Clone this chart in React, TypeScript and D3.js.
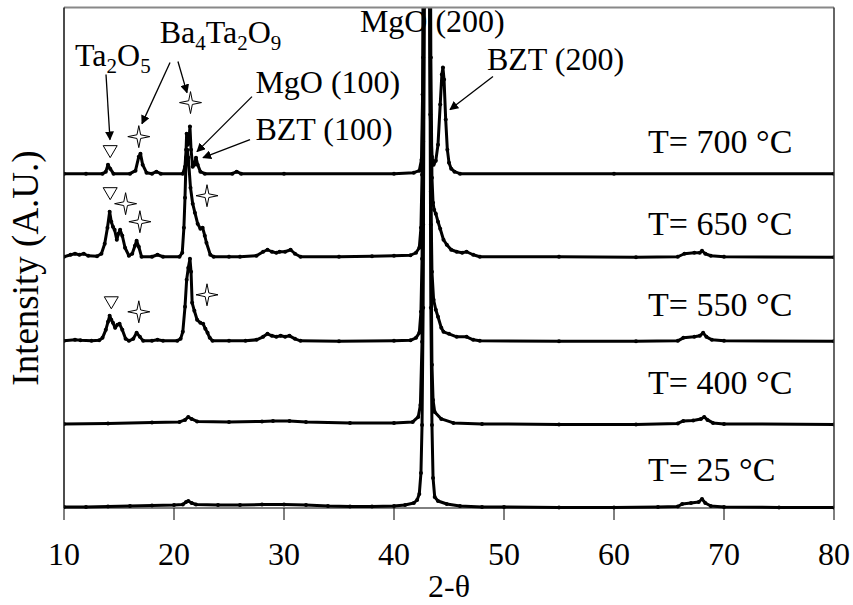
import React from "react";
import * as d3 from "d3";

// ---------- data (2θ, intensity in arbitrary units) ----------
const xTicks = [10, 20, 30, 40, 50, 60, 70, 80];
const tempLabels = ["T= 25 °C", "T= 400 °C", "T= 550 °C", "T= 650 °C", "T= 700 °C"];
const offsets = [0, 83, 166, 250, 333];
const labelLevels = [27, 114, 192, 273, 355];

const t25: [number, number][] = [
  [10, 1], [12, 1], [14, 1.5], [16, 2], [18, 2.5], [20, 3], [20.8, 3.5], [21.1, 6], [21.3, 7], [21.6, 5], [22, 3.5],
  [24, 3], [26, 3], [28, 3.5], [30, 3.5], [32, 3], [34, 2], [36, 1.5], [38, 1.5], [40, 2], [41, 3], [41.8, 5], [42.1, 8],
  [42.3, 14], [42.45, 35], [42.55, 83], [42.65, 200], [42.75, 500], [42.85, 1200], [43.0, 2000], [43.15, 1200], [43.25, 500],
  [43.35, 200], [43.45, 83], [43.55, 30], [43.7, 11], [44, 7], [44.8, 4], [46, 2], [48, 1], [50, 1], [55, 0.5], [60, 0.5],
  [64, 1], [65.8, 1.5], [66.2, 4], [67, 5], [67.7, 6], [68, 9], [68.3, 5], [68.8, 2], [70, 1], [75, 0.5], [80, 0.5],
];
const t400: [number, number][] = [
  [10, 1], [14, 1.5], [18, 2.5], [20.5, 3], [21, 5], [21.3, 8], [21.6, 6], [22.1, 3.5], [25, 3], [28, 3.5], [29, 4], [30.5, 4],
  [32, 3], [36, 2], [40, 2], [41.7, 3], [42.2, 8], [42.4, 20], [42.55, 83], [42.65, 200], [42.75, 500], [42.85, 1200], [43.0, 2000],
  [43.15, 1200], [43.25, 500], [43.35, 200], [43.45, 60], [43.55, 25], [43.7, 13], [44.3, 6], [45.4, 2], [48, 1], [55, 0.5],
  [62, 0.5], [65.8, 1.5], [66.3, 4], [67.2, 4.5], [67.9, 6], [68.2, 8], [68.5, 5], [69, 2], [70, 1], [80, 0.5],
];
const t550: [number, number][] = [
  [10, 1], [11, 2], [11.5, 1.5], [12.5, 1], [13.2, 1.5], [13.5, 4], [13.8, 12], [14.0, 20], [14.15, 26], [14.3, 22], [14.45, 19],
  [14.65, 14], [14.85, 17], [15.05, 18], [15.3, 12], [15.6, 3], [15.9, 1], [16.3, 3], [16.6, 9], [16.9, 5], [17.2, 1], [18, 1],
  [18.5, 2], [19, 1], [20.3, 1], [20.6, 3], [20.8, 10], [21.0, 35], [21.15, 62], [21.3, 74], [21.45, 83], [21.55, 70], [21.65, 39],
  [21.85, 31], [22.1, 22], [22.4, 19], [22.65, 18], [22.85, 13], [23.05, 9], [23.25, 4], [23.5, 1], [25, 1], [26.5, 1], [27.5, 2],
  [28.1, 5], [28.5, 8], [28.9, 6], [29.3, 5], [29.7, 6], [30.1, 5], [30.5, 6], [31.0, 3], [31.5, 1], [35, 0.5], [40, 1], [41.5, 1.5],
  [42.0, 4], [42.3, 9], [42.45, 30], [42.55, 83], [42.65, 200], [42.75, 500], [42.85, 1200], [43.0, 2000], [43.15, 1200],
  [43.25, 500], [43.35, 150], [43.45, 70], [43.6, 42], [43.8, 32], [44.0, 25], [44.3, 14], [44.5, 10], [45.0, 8], [45.7, 5],
  [46.6, 5], [47.2, 2], [47.8, 1], [55, 0.5], [62, 0.5], [65.8, 1], [66.3, 4], [67.3, 5], [67.8, 6], [68.1, 9], [68.4, 5],
  [68.9, 2], [70, 1], [80, 0.5],
];
const t650: [number, number][] = [
  [10, 1], [10.6, 3], [11.0, 4], [11.4, 3], [11.8, 4], [12.2, 2], [13.0, 1.5], [13.4, 4], [13.7, 14], [13.95, 30], [14.15, 46],
  [14.3, 36], [14.45, 31], [14.6, 28], [14.8, 18], [14.95, 24], [15.1, 28], [15.3, 22], [15.55, 10], [15.9, 2], [16.2, 4],
  [16.45, 12], [16.6, 17], [16.8, 11], [17.05, 1], [18, 1], [18.5, 3], [19, 1], [20.5, 1], [20.75, 5], [20.9, 30], [21.0, 60],
  [21.1, 100], [21.2, 108], [21.3, 100], [21.5, 70], [21.7, 54], [21.9, 45], [22.15, 34], [22.4, 29], [22.6, 30], [22.8, 22],
  [22.95, 15], [23.3, 3], [23.6, 1], [25, 1], [26, 1], [27.5, 2], [28.1, 6], [28.5, 8], [28.9, 6], [29.3, 5], [29.6, 6],
  [30.1, 6], [30.6, 8], [31.0, 4], [31.5, 1], [35, 1], [38, 1.5], [40, 2], [41.5, 2.5], [42.0, 5], [42.3, 10], [42.45, 30],
  [42.55, 83], [42.65, 200], [42.75, 500], [42.85, 1200], [43.0, 2000], [43.15, 1200], [43.25, 500], [43.35, 200], [43.45, 80],
  [43.55, 55], [43.65, 48], [43.8, 44], [44.0, 36], [44.2, 29], [44.5, 18], [44.8, 13], [45.2, 8], [45.7, 6], [46.2, 5],
  [46.6, 6], [47.2, 3], [47.8, 1], [55, 1], [62, 0.5], [65.8, 1], [66.4, 4], [67.3, 5], [67.8, 5], [68.0, 7], [68.3, 4],
  [68.8, 2], [70, 1], [80, 0.5],
];
const t700: [number, number][] = [
  [10, 1], [12, 1], [13.5, 1], [13.8, 3], [14.0, 10], [14.2, 6], [14.5, 1], [16, 1], [16.5, 4], [16.8, 18], [16.95, 21],
  [17.15, 10], [17.5, 2], [18, 1], [18.4, 3], [18.8, 1], [20.8, 1], [21.0, 8], [21.1, 25], [21.15, 41], [21.25, 30], [21.35, 32],
  [21.45, 48], [21.55, 25], [21.7, 8], [21.85, 10], [22.0, 17], [22.15, 10], [22.4, 3], [22.8, 1], [25.3, 1], [25.7, 3],
  [26.1, 1], [30, 1], [40, 1], [41.8, 2], [42.3, 4], [42.5, 15], [42.6, 80], [42.7, 300], [42.85, 1500], [43.0, 1500],
  [43.15, 400], [43.3, 60], [43.45, 18], [43.6, 10], [43.8, 14], [44.0, 30], [44.2, 70], [44.35, 100], [44.45, 107],
  [44.55, 95], [44.7, 55], [44.85, 25], [45.0, 12], [45.2, 6], [45.5, 3], [46, 1], [60, 1], [80, 1],
];
const seriesData = [t25, t400, t550, t650, t700];

// phase markers [2θ, intensity]
const triangleMarks: [number, number][] = [[14.2, 356], [14.2, 314], [14.3, 205]];
const starMarks: [number, number][] = [[16.8, 371], [21.5, 405], [15.6, 304], [16.9, 286], [23.0, 312], [16.8, 196], [23.0, 213]];

const W = 853, H = 605;
const L = 64, R = 834, T = 7.5, B = 508;
const FONT = "'Liberation Serif', 'Times New Roman', serif";

function starPath(cx: number, cy: number, ro: number, ri: number) {
  const pts: string[] = [];
  for (let i = 0; i < 8; i++) {
    const a = (Math.PI / 4) * i - Math.PI / 2;
    const r = i % 2 === 0 ? ro : ri;
    pts.push(`${cx + r * Math.cos(a)},${cy + r * Math.sin(a)}`);
  }
  return "M" + pts.join("L") + "Z";
}

export default function App() {
  const x = d3.scaleLinear().domain([10, 80]).range([L, R]);
  const y = d3.scaleLinear().domain([0, 500]).range([B, T]);

  const arrows: [number, number, number, number][] = [
    [13.82, 433, 14.18, 368],
    [19.64, 445, 17.09, 384],
    [20.36, 446, 21.18, 415],
    [27.09, 411, 22.09, 356],
    [26.91, 368, 22.64, 350],
    [49.0, 431, 45.09, 398],
  ];

  return (
    <svg width={W} height={H} style={{ display: "block", position: "absolute", left: 0, top: 0, background: "#fff" }}>
      <defs>
        <clipPath id="plot">
          <rect x={L} y={T} width={R - L} height={B - T + 4} />
        </clipPath>
        <marker id="ah" viewBox="0 0 10 10" refX="9" refY="5" markerWidth="9" markerHeight="9" markerUnits="userSpaceOnUse" orient="auto">
          <path d="M0,0L10,5L0,10Z" fill="#000" />
        </marker>
      </defs>
      <rect x={0} y={0} width={W} height={H} fill="#fff" />

      {/* traces */}
      <g clipPath="url(#plot)">
        {seriesData.map((data, i) => {
          const off = offsets[i];
          const line = d3.line<[number, number]>().x((d) => x(d[0])).y((d) => y(d[1] + off));
          return (
            <g key={i}>
              <path d={line(data) || ""} fill="none" stroke="#000" strokeWidth={3} strokeLinejoin="round" />
              {data.map((d, j) => (
                <circle key={j} cx={x(d[0])} cy={y(d[1] + off)} r={2} fill="#000" />
              ))}
            </g>
          );
        })}
      </g>

      {/* frame */}
      <line x1={L} x2={R} y1={T} y2={T} stroke="#888" strokeWidth={2} />
      <line x1={R} x2={R} y1={T} y2={B} stroke="#333" strokeWidth={1.5} />
      <line x1={L} x2={L} y1={T} y2={B} stroke="#111" strokeWidth={1.5} />
      <line x1={L} x2={R} y1={B} y2={B} stroke="#000" strokeWidth={1} />

      {/* x axis */}
      {xTicks.map((t) => (
        <g key={t}>
          <line x1={x(t)} x2={x(t)} y1={B} y2={B + 12} stroke="#000" strokeWidth={1} />
          <text x={x(t)} y={565} textAnchor="middle" fontFamily={FONT} fontSize={32}>{t}</text>
        </g>
      ))}
      <text x={(L + R) / 2} y={597} textAnchor="middle" fontFamily={FONT} fontSize={32}>2-θ</text>
      <text transform={`translate(38,268) rotate(-90)`} textAnchor="middle" fontFamily={FONT} fontSize={37}>Intensity (A.U.)</text>

      {/* temperature labels */}
      {tempLabels.map((s, i) => (
        <text key={s} x={x(63.1)} y={y(labelLevels[i])} fontFamily={FONT} fontSize={34}>{s}</text>
      ))}

      {/* phase markers */}
      {triangleMarks.map((m, i) => {
        const cx = x(m[0]), cy = y(m[1]);
        return <path key={"t" + i} d={`M${cx - 7},${cy - 6}L${cx + 7},${cy - 6}L${cx},${cy + 6}Z`} fill="#fff" stroke="#000" strokeWidth={1} />;
      })}
      {starMarks.map((m, i) => (
        <path key={"s" + i} d={starPath(x(m[0]), y(m[1]), 11, 2.6)} fill="#fff" stroke="#000" strokeWidth={1} />
      ))}

      {/* arrows */}
      {arrows.map((a, i) => (
        <line key={"a" + i} x1={x(a[0])} y1={y(a[1])} x2={x(a[2])} y2={y(a[3])} stroke="#000" strokeWidth={1.3} markerEnd="url(#ah)" />
      ))}

      {/* annotations */}
      <g fontFamily={FONT} fontSize={32}>
        <text x={x(11.0)} y={y(442)}>
          <tspan>Ta</tspan><tspan dy={7} fontSize={21}>2</tspan><tspan dy={-7}>O</tspan><tspan dy={7} fontSize={21}>5</tspan>
        </text>
        <text x={x(18.7)} y={y(465)}>
          <tspan>Ba</tspan><tspan dy={7} fontSize={21}>4</tspan><tspan dy={-7}>Ta</tspan><tspan dy={7} fontSize={21}>2</tspan>
          <tspan dy={-7}>O</tspan><tspan dy={7} fontSize={21}>9</tspan>
        </text>
        <text x={x(27.4)} y={y(415)}>MgO (100)</text>
        <text x={x(27.4)} y={y(368)}>BZT (100)</text>
        <text x={x(36.9)} y={y(476)}>MgO (200)</text>
        <text x={x(48.45)} y={y(438)}>BZT (200)</text>
      </g>
    </svg>
  );
}
